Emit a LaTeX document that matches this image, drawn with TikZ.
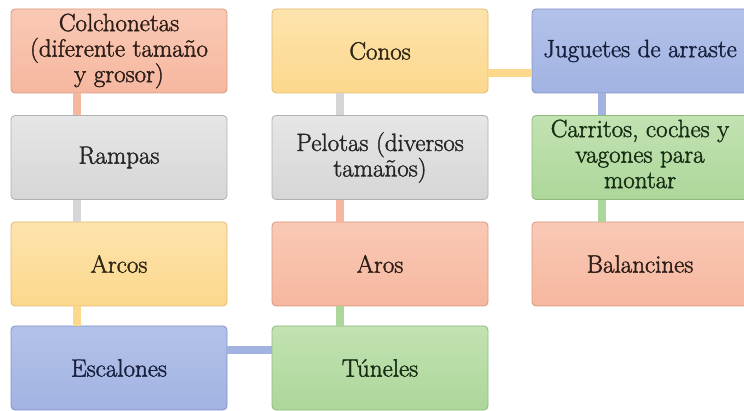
\documentclass[tikz,border=0pt]{standalone}
\usepackage{fontspec}
\newfontfamily\boxfont[FakeBold=1.6]{Latin Modern Roman}
\definecolor{cOr}{HTML}{F6B7A0}
\definecolor{cOrT}{HTML}{F9C9B5}
\definecolor{cOrD}{HTML}{D9987F}
\definecolor{cGr}{HTML}{D6D6D6}
\definecolor{cGrT}{HTML}{E6E6E6}
\definecolor{cGrD}{HTML}{B0B0B0}
\definecolor{cYe}{HTML}{FCD88C}
\definecolor{cYeT}{HTML}{FDE3AD}
\definecolor{cYeD}{HTML}{E0BA70}
\definecolor{cBl}{HTML}{A2B3E2}
\definecolor{cBlT}{HTML}{B3C2EA}
\definecolor{cBlD}{HTML}{8293C4}
\definecolor{cGn}{HTML}{ADD79A}
\definecolor{cGnT}{HTML}{C2E2B2}
\definecolor{cGnD}{HTML}{8EBA7C}
\definecolor{tOr}{HTML}{2E1E18}
\definecolor{tGr}{HTML}{262626}
\definecolor{tYe}{HTML}{2E2614}
\definecolor{tBl}{HTML}{18203C}
\definecolor{tGn}{HTML}{172E15}
\begin{document}
\begin{tikzpicture}[x=1pt,y=-1pt,
  box/.style={draw=#1D, line width=0.8pt, rounded corners=4pt, top color=#1T, bottom color=#1,
    minimum width=216pt, minimum height=84pt, inner sep=0pt, align=center,
    font=\boxfont\fontsize{25}{25.5}\selectfont},
  conn/.style={line width=8pt, draw=#1}]
\useasboundingbox (0,0) rectangle (744,411);
\begin{scope}
\clip (0,0) rectangle (744,411);
\node[box=cOr, text=tOr] (colch) at (119,51) {Colchonetas\\(diferente tamaño\\y grosor)};
\node[box=cGr, text=tGr] (ramp) at (119,157.5) {Rampas};
\node[box=cYe, text=tYe] (arcos) at (119,264) {Arcos};
\node[box=cBl, text=tBl] (esc) at (119,368) {Escalones};
\node[box=cGn, text=tGn] (tun) at (380,368) {Túneles};
\node[box=cOr, text=tOr] (aros) at (380,264) {Aros};
\node[box=cGr, text=tGr] (pel) at (380,157.5) {Pelotas (diversos\\tamaños)};
\node[box=cYe, text=tYe] (conos) at (380,51) {Conos};
\node[box=cBl, text=tBl] (jug) at (640,51) {Juguetes de arraste};
\node[box=cGn, text=tGn] (carr) at (640,157.5) {\raisebox{3pt}{\begin{tabular}{@{}c@{}}Carritos, coches y\\vagones para\\montar\end{tabular}}};
\node[box=cOr, text=tOr] (bal) at (640,264) {Balancines};
\draw[conn=cOr] ([xshift=-42pt]colch.south) -- ([xshift=-42pt]ramp.north);
\draw[conn=cGr] ([xshift=-42pt]ramp.south) -- ([xshift=-42pt]arcos.north);
\draw[conn=cYe] ([xshift=-42pt]arcos.south) -- ([xshift=-42pt]esc.north);
\draw[conn=cBl] ([yshift=18pt]esc.east) -- ([yshift=18pt]tun.west);
\draw[conn=cGn] ([xshift=-40pt]tun.north) -- ([xshift=-40pt]aros.south);
\draw[conn=cOr] ([xshift=-40pt]aros.north) -- ([xshift=-40pt]pel.south);
\draw[conn=cGr] ([xshift=-40pt]pel.north) -- ([xshift=-40pt]conos.south);
\draw[conn=cYe] ([yshift=-22pt]conos.east) -- ([yshift=-22pt]jug.west);
\draw[conn=cBl] ([xshift=-38pt]jug.south) -- ([xshift=-38pt]carr.north);
\draw[conn=cGn] ([xshift=-38pt]carr.south) -- ([xshift=-38pt]bal.north);
\end{scope}
\end{tikzpicture}
\end{document}
